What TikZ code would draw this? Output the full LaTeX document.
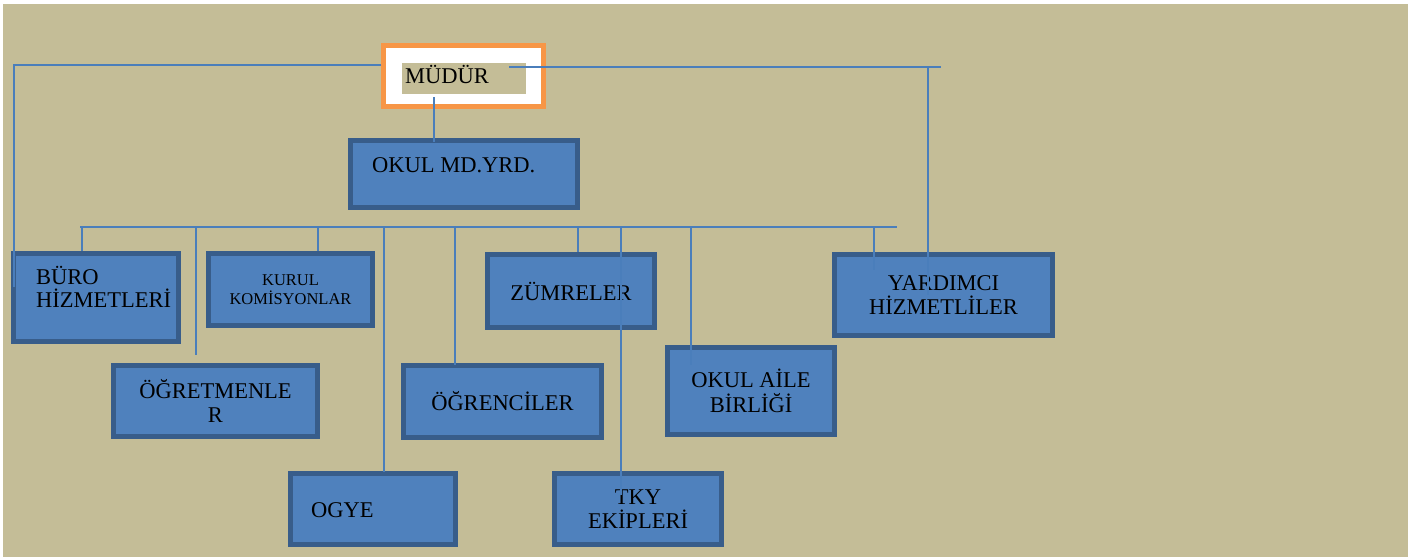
\documentclass[tikz,border=0pt]{standalone}
\usepackage{fontspec}
\setmainfont{Liberation Serif}
\definecolor{tan}{HTML}{C4BD97}
\definecolor{boxfill}{HTML}{4F81BD}
\definecolor{boxedge}{HTML}{385D8A}
\definecolor{wire}{HTML}{4A7EBB}
\definecolor{frame}{HTML}{F79646}
\tikzset{
  unitbox/.style={draw=boxedge,line width=5pt,fill=boxfill,inner sep=0pt,align=center,font=\fontsize{22.5}{24.5}\selectfont},
  smallbox/.style={unitbox,font=\fontsize{16.5}{18.5}\selectfont},
  lbl/.style={inner sep=0pt,font=\fontsize{22.5}{22.5}\selectfont},
  wire/.style={draw=wire,line width=2pt}
}
\begin{document}
\begin{tikzpicture}[x=1pt,y=-1pt,line join=miter]
		\useasboundingbox (0,0) rectangle (1424,557);
		\fill[tan] (3,4) rectangle (1408,557);
		% mudur
		\node[draw=frame,line width=5pt,fill=white,minimum width=160pt,minimum height=61pt,inner sep=0pt] (mudur) at (463.5,76) {};
		\node[fill=tan,minimum width=124pt,minimum height=31pt,inner sep=0pt] (mudin) at (464,78.5) {};
		\node[lbl,anchor=base west] (mudur-t) at (405,83) {MÜDÜR};
		% boxes
		\node[unitbox,minimum width=227pt,minimum height=67pt] (mdyrd) at (464,174) {};
		\node[lbl,anchor=base west] (mdyrd-t) at (372,172) {OKUL MD.YRD.};
		\node[unitbox,minimum width=165pt,minimum height=88pt] (buro) at (96,297.5) {};
		\node[lbl,anchor=west,align=left] (buro-t) at (36,287) {BÜRO\\HİZMETLERİ};
		\node[smallbox,minimum width=164pt,minimum height=72pt] (kurul) at (290.5,289.5) {KURUL\\KOMİSYONLAR};
		\node[unitbox,minimum width=167pt,minimum height=73pt] (zumre) at (571,291) {ZÜMRELER};
		\node[unitbox,minimum width=218pt,minimum height=81pt] (yardimci) at (943.5,295) {YARDIMCI\\HİZMETLİLER};
		\node[unitbox,minimum width=204pt,minimum height=71pt] (ogretmen) at (215.5,401) {ÖĞRETMENLE\\R};
		\node[unitbox,minimum width=198pt,minimum height=72pt] (ogrenci) at (502.5,401.5) {ÖĞRENCİLER};
		\node[unitbox,minimum width=167pt,minimum height=87pt] (aile) at (751,391) {OKUL AİLE\\BİRLİĞİ};
		\node[unitbox,minimum width=165pt,minimum height=71pt] (ogye) at (373,509) {};
		\node[lbl,anchor=base west] (ogye-t) at (311,517) {OGYE};
		\node[unitbox,minimum width=167pt,minimum height=71pt] (tky) at (638,509) {TKY\\EKİPLERİ};
		% lines
		\coordinate (lcorner) at (14,65);
		\coordinate (rstart) at (509,67);
		\coordinate (rcorner) at (928,67);
		\coordinate (rend) at (941,67);
		\coordinate (mtop) at (434,97);
		\coordinate (busL) at (80,227);
		\coordinate (busR) at (897,227);
		\coordinate (dogret) at (196,355);
		\coordinate (dogye) at (384,472);
		\coordinate (dogrenci) at (455,365);
		\coordinate (dtky) at (621,495);
		\coordinate (daile) at (691,365);
		\coordinate (dyard) at (874,270);
		\draw[wire] (mudur.west |- lcorner) -- (lcorner) -- (lcorner |- buro-t.center);
		\draw[wire] (rstart) -- (rend);
		\draw[wire] (rcorner) -- (rcorner |- yardimci.center);
		\draw[wire] (mtop) -- ([yshift=-4pt]mtop |- mdyrd.north);
		\draw[wire] (busL) -- (busR);
		\draw[wire] (82,0 |- busL) -- (82,0 |- buro.north);
		\draw[wire] (318,0 |- busL) -- (318,0 |- kurul.north);
		\draw[wire] (578,0 |- busL) -- (578,0 |- zumre.north);
		\draw[wire] (dogret |- busL) -- (dogret);
		\draw[wire] (dogye |- busL) -- (dogye);
		\draw[wire] (dogrenci |- busL) -- (dogrenci);
		\draw[wire] (dtky |- busL) -- (dtky);
		\draw[wire] (daile |- busL) -- (daile);
		\draw[wire] (dyard |- busL) -- (dyard);
\end{tikzpicture}
\end{document}
